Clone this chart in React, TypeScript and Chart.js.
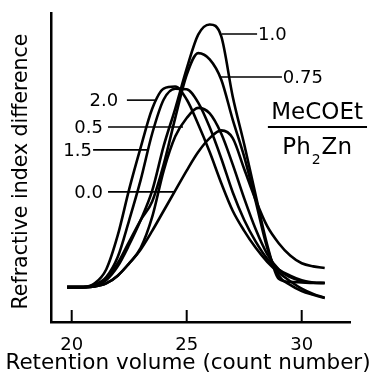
import React, { useEffect, useRef } from 'react';
import { Chart, registerables } from 'chart.js';

Chart.register(...registerables);

// Retention volume (count number) sample positions
const retention = [19.8, 20.5, 21, 21.5, 22, 22.5, 23, 23.5, 24, 24.5, 25, 25.5, 26, 26.5, 27, 27.5, 28, 28.5, 29, 29.5, 30, 30.5, 31];

// Refractive index difference (arbitrary units) for each MeCOEt / Ph2Zn ratio
const ratio100 = [11.3, 11.3, 11.6, 13.5, 18, 25, 33, 42.5, 57, 69, 82, 93, 96.3, 92.5, 73, 57.5, 41, 25, 14, 13, 12.8, 12.6, 12.6];
const ratio075 = [11.3, 11.3, 11.8, 14, 19, 26, 33, 39, 51, 66, 80, 87, 85, 78.5, 65.5, 53.5, 39, 24, 15, 12, 10, 8.8, 7.8];
const ratio200 = [11.3, 11.3, 12.5, 17, 28, 43, 56.5, 69, 75.5, 76.2, 72, 64, 55, 45, 36, 29.5, 24, 19.5, 16, 13.2, 10.8, 9.1, 7.8];
const ratio050 = [11.3, 11.3, 11.5, 12.5, 15, 19, 24, 34, 49, 60, 66, 69.3, 67.5, 61, 51, 40, 30, 22, 17, 14.5, 13.2, 12.7, 12.6];
const ratio150 = [11.3, 11.3, 12, 14.5, 21, 33, 46, 61, 72, 75.5, 75.3, 71, 63, 53, 42, 33, 26, 20.5, 17, 15, 13.5, 12.8, 12.6];
const ratio000 = [11.3, 11.3, 11.5, 12.5, 15, 19, 23.5, 29.5, 36, 42.5, 49, 55, 59.5, 62, 59.5, 49.5, 39.5, 31, 25.5, 21.5, 19, 18, 17.5];

const seriesNames = ['1.0', '0.75', '2.0', '0.5', '1.5', '0.0'];

// Leader lines and label anchors for the curve labels (data units)
const leaderStart = [26.52, 26.45, 22.4, 21.58, 20.93, 21.58];
const leaderEnd = [28.06, 29.14, 23.62, 24.84, 23.32, 24.49];
const leaderLevel = [93.2, 79.3, 71.8, 63.1, 55.7, 42.1];
const labelAnchor = [28.1, 29.18, 22.02, 21.36, 20.88, 21.36];
const labelOnRight = [true, true, false, false, false, false];

const xTicks = [20, 25, 30];

const xTitle = 'Retention volume (count number)';
const yTitle = 'Refractive index difference';

const fractionTop = 'MeCOEt';
const fractionBottomA = 'Ph';
const fractionSub = '2';
const fractionBottomB = 'Zn';
const fractionCenterX = 30.67;
const fractionBarStart = 28.53;
const fractionBarEnd = 32.84;
const fractionTopLevel = 67.6;
const fractionBarLevel = 63.1;
const fractionBottomLevel = 56.3;

const FONT = "'DejaVu Sans', sans-serif";

const overlayPlugin = {
  id: 'overlay',
  afterDraw(chart: any) {
    const ctx = chart.ctx as CanvasRenderingContext2D;
    const xs = chart.scales.x;
    const ys = chart.scales.y;
    const area = chart.chartArea;
    ctx.save();
    ctx.strokeStyle = '#000';
    ctx.fillStyle = '#000';
    // inward tick marks
    ctx.lineWidth = 2;
    xTicks.forEach((v) => {
      const px = xs.getPixelForValue(v);
      ctx.beginPath();
      ctx.moveTo(px, area.bottom);
      ctx.lineTo(px, area.bottom - 12);
      ctx.stroke();
    });
    // axis titles
    ctx.textBaseline = 'middle';
    ctx.textAlign = 'center';
    ctx.font = `21.5px ${FONT}`;
    ctx.fillText(xTitle, 188, 363);
    ctx.save();
    ctx.translate(22, (area.top + area.bottom) / 2 + 4);
    ctx.rotate(-Math.PI / 2);
    ctx.font = `20.5px ${FONT}`;
    ctx.fillText(yTitle, 0, 0);
    ctx.restore();
    // leader lines & labels
    ctx.lineWidth = 1.6;
    ctx.font = `18px ${FONT}`;
    ctx.textBaseline = 'middle';
    seriesNames.forEach((name, i) => {
      const x1 = xs.getPixelForValue(leaderStart[i]);
      const x2 = xs.getPixelForValue(leaderEnd[i]);
      const y = ys.getPixelForValue(leaderLevel[i]);
      ctx.beginPath();
      ctx.moveTo(x1, y);
      ctx.lineTo(x2, y);
      ctx.stroke();
      ctx.textAlign = labelOnRight[i] ? 'left' : 'right';
      ctx.fillText(name, xs.getPixelForValue(labelAnchor[i]), y + 1);
    });
    // fraction
    const cx = xs.getPixelForValue(fractionCenterX);
    ctx.font = `23px ${FONT}`;
    ctx.textAlign = 'center';
    ctx.fillText(fractionTop, cx, ys.getPixelForValue(fractionTopLevel));
    ctx.lineWidth = 2;
    const by = ys.getPixelForValue(fractionBarLevel);
    ctx.beginPath();
    ctx.moveTo(xs.getPixelForValue(fractionBarStart), by);
    ctx.lineTo(xs.getPixelForValue(fractionBarEnd), by);
    ctx.stroke();
    const fy = ys.getPixelForValue(fractionBottomLevel);
    ctx.font = `23px ${FONT}`;
    const wA = ctx.measureText(fractionBottomA).width;
    const wB = ctx.measureText(fractionBottomB).width;
    ctx.font = `14px ${FONT}`;
    const wS = ctx.measureText(fractionSub).width + 2;
    const total = wA + wS + wB;
    let sx = cx - total / 2;
    ctx.textAlign = 'left';
    ctx.font = `23px ${FONT}`;
    ctx.fillText(fractionBottomA, sx, fy);
    sx += wA;
    ctx.font = `14px ${FONT}`;
    ctx.fillText(fractionSub, sx + 1, fy + 12);
    sx += wS;
    ctx.font = `23px ${FONT}`;
    ctx.fillText(fractionBottomB, sx, fy);
    ctx.restore();
  },
};

export default function App() {
  const ref = useRef<HTMLCanvasElement>(null);
  useEffect(() => {
    const series = [ratio100, ratio075, ratio200, ratio050, ratio150, ratio000];
    const chart = new Chart(ref.current as HTMLCanvasElement, {
      type: 'line',
      data: {
        datasets: series.map((vals, i) => ({
          label: seriesNames[i],
          data: retention.map((x, j) => ({ x, y: vals[j] })),
          borderColor: '#000',
          borderWidth: 2.6,
          pointRadius: 0,
          fill: false,
          cubicInterpolationMode: 'monotone' as const,
        })),
      },
      options: {
        animation: false,
        responsive: true,
        maintainAspectRatio: false,
        layout: { padding: { top: 13, right: 25, left: 0, bottom: 0 } },
        plugins: { legend: { display: false }, tooltip: { enabled: false } },
        scales: {
          x: {
            type: 'linear',
            min: 19.1,
            max: 32.1,
            afterBuildTicks: (s: any) => {
              s.ticks = xTicks.map((v) => ({ value: v }));
            },
            afterFit: (s: any) => {
              s.height = 56;
            },
            grid: { display: false },
            border: { display: true, color: '#000', width: 2.5 },
            ticks: { color: '#000', font: { family: FONT, size: 18 }, padding: 5 },
            title: { display: false },
          },
          y: {
            type: 'linear',
            min: 0,
            max: 100,
            ticks: { display: false },
            grid: { display: false },
            border: { display: true, color: '#000', width: 2.5 },
            afterFit: (s: any) => {
              s.width = 51;
            },
            title: { display: false },
          },
        },
      } as any,
      plugins: [overlayPlugin],
    });
    return () => chart.destroy();
  }, []);
  return (
    <div style={{ position: 'fixed', left: 0, top: 0, width: 375, height: 378, background: '#fff' }}>
      <canvas ref={ref} />
    </div>
  );
}
